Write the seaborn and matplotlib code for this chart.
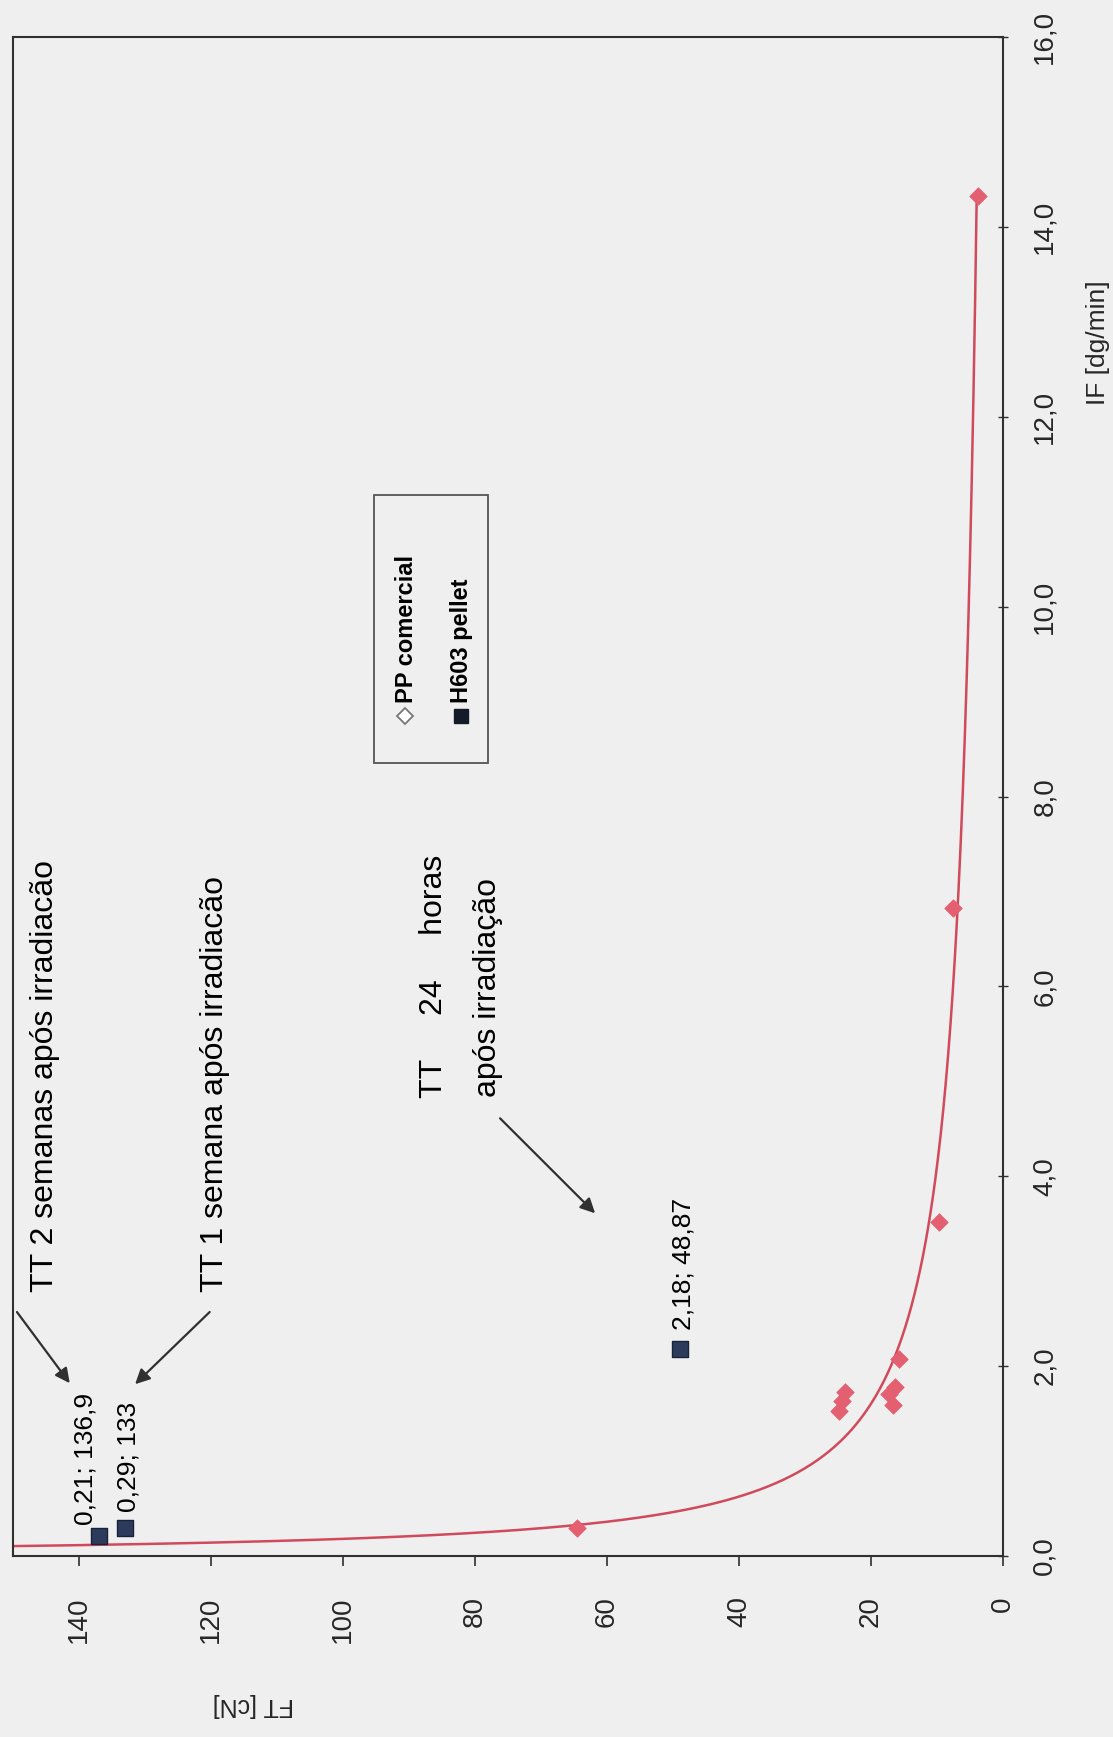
import numpy as np
import pandas as pd
import matplotlib
matplotlib.use("Agg")
import matplotlib.pyplot as plt
import seaborn as sns
from matplotlib.patches import Rectangle
from matplotlib.lines import Line2D

# PP comercial: índice de fluidez IF [dg/min] e força de tração FT [cN]
pp_if = [0.30, 1.53, 1.59, 1.63, 1.71, 1.73, 1.78, 2.08, 3.52, 6.83, 14.32]
pp_ft = [64.5, 24.8, 16.6, 24.4, 17.3, 24.0, 16.3, 15.8, 9.7, 7.5, 3.8]

# H603 pellet após tratamento térmico
h603_if = [0.21, 0.29, 2.18]
h603_ft = [136.9, 133.0, 48.87]
h603_labels = ["0,21; 136,9", "0,29; 133", "2,18; 48,87"]

# Eixos
ft_ticks = [0, 20, 40, 60, 80, 100, 120, 140]
ft_ticklabels = ["0", "20", "40", "60", "80", "100", "120", "140"]
if_ticks = [0, 2, 4, 6, 8, 10, 12, 14, 16]
if_ticklabels = ["0,0", "2,0", "4,0", "6,0", "8,0", "10,0", "12,0", "14,0", "16,0"]

series_names = ["PP comercial", "H603 pellet"]

BG = "#efefef"
RED = "#e45f70"
LINE_RED = "#d04a5c"
NAVY = "#2c3a5c"
DARK = "#303030"

sns.set_theme(style="white")
plt.rcParams["font.family"] = ["Liberation Sans", "DejaVu Sans"]

fig = plt.figure(figsize=(11.13, 17.37), dpi=100, facecolor=BG)
ax = fig.add_axes([13 / 1113, 1 - 1556 / 1737, 990 / 1113, 1519 / 1737])
ax.set_facecolor(BG)

pp = pd.DataFrame({"IF": pp_if, "FT": pp_ft})
h603 = pd.DataFrame({"IF": h603_if, "FT": h603_ft, "label": h603_labels})

# Linha de tendência potência (FT = a * IF^b) ajustada em escala log-log
b, ln_a = np.polyfit(np.log(pp["IF"]), np.log(pp["FT"]), 1)
if_grid = np.geomspace(0.05, pp["IF"].max(), 500)
trend = pd.DataFrame({"IF": if_grid, "FT": np.exp(ln_a) * if_grid ** b})

sns.lineplot(data=trend, x="FT", y="IF", sort=False, estimator=None,
             color=LINE_RED, lw=1.8, ax=ax, zorder=2)
sns.scatterplot(data=pp, x="FT", y="IF", marker="D", s=80, color=RED,
                edgecolor=RED, linewidth=0.5, ax=ax, zorder=3)
sns.scatterplot(data=h603, x="FT", y="IF", marker="s", s=140, color=NAVY,
                edgecolor="#1a2238", linewidth=1.0, ax=ax, zorder=4)

ax.set_xlim(150, 0)
ax.set_ylim(0, 16)

# Rótulos dos pontos H603
label_offsets = [(-7, 11), (10, 16), (10, 19)]
for (_, row), off in zip(h603.iterrows(), label_offsets):
    ax.annotate(row["label"], xy=(row["FT"], row["IF"]), xytext=off,
                textcoords="offset pixels", rotation=90, rotation_mode="anchor",
                ha="left", va="baseline", fontsize=19, color="black", zorder=5)

# Ticks e rótulos
ax.set_xticks(ft_ticks)
ax.set_xticklabels(ft_ticklabels)
ax.set_yticks(if_ticks)
ax.set_yticklabels(if_ticklabels)
ax.yaxis.tick_right()
ax.yaxis.set_label_position("right")
ax.tick_params(axis="x", direction="out", length=7, width=1.2, color=DARK,
               pad=22, labelsize=20, labelrotation=90, bottom=True)
ax.tick_params(axis="y", direction="inout", length=6.5, width=1.0, color=DARK,
               pad=17.5, labelsize=20, labelrotation=90, right=True, left=False)
for lbl in ax.get_yticklabels():
    lbl.set_va("center")
    lbl.set_ha("left")

ax.set_xlabel("FT [cN]", fontsize=18, rotation=180, ha="center", va="center")
ax.xaxis.set_label_coords(0.2424, -0.098)
ax.set_ylabel("IF [dg/min]", fontsize=19, rotation=90, ha="center", va="center")
ax.yaxis.set_label_coords(1.096, 0.7986)

for sp in ax.spines.values():
    sp.set_visible(True)
    sp.set_color(DARK)
    sp.set_linewidth(1.5)

# Anotações de tratamento térmico
text_kw = dict(rotation=90, rotation_mode="anchor", ha="left", va="baseline",
               fontsize=23, color="black", zorder=5)
ax.text(143.9, 2.78, "TT 2 semanas após irradiacão", **text_kw)
ax.text(118.2, 2.78, "TT 1 semana após irradiacão", **text_kw)
ax.text(85.0, 4.82, "TT     24     horas", **text_kw)
ax.text(76.8, 4.83, "após irradiação", **text_kw)

arrow_kw = dict(arrowstyle="-|>", color=DARK, lw=1.6, mutation_scale=22,
                shrinkA=0, shrinkB=0)
ax.annotate("", xy=(141.4, 1.82), xytext=(149.4, 2.57), arrowprops=arrow_kw)
ax.annotate("", xy=(131.5, 1.81), xytext=(120.2, 2.57), arrowprops=arrow_kw)
ax.annotate("", xy=(61.8, 3.61), xytext=(76.2, 4.61), arrowprops=arrow_kw)

# Legenda (girada junto com o gráfico)
ax.add_patch(Rectangle((0.3646, 0.522), 0.1152, 0.1765, transform=ax.transAxes,
                       facecolor="none", edgecolor="#555555", lw=1.3, zorder=5))
ax.add_line(Line2D([0.396], [0.553], transform=ax.transAxes, marker="D",
                   markersize=8, markerfacecolor="white", markeredgecolor="#777777",
                   markeredgewidth=1.3, linestyle="none", zorder=6))
ax.add_line(Line2D([0.4525], [0.553], transform=ax.transAxes, marker="s",
                   markersize=10, markerfacecolor="#151a28", markeredgecolor="#151a28",
                   linestyle="none", zorder=6))
leg_kw = dict(transform=ax.transAxes, rotation=90, rotation_mode="anchor",
              ha="left", va="baseline", fontsize=17, fontweight="bold",
              color="black", zorder=6)
ax.text(0.404, 0.5616, series_names[0], **leg_kw)
ax.text(0.4596, 0.5616, series_names[1], **leg_kw)

fig.savefig("out.png", dpi=100, facecolor=BG)
